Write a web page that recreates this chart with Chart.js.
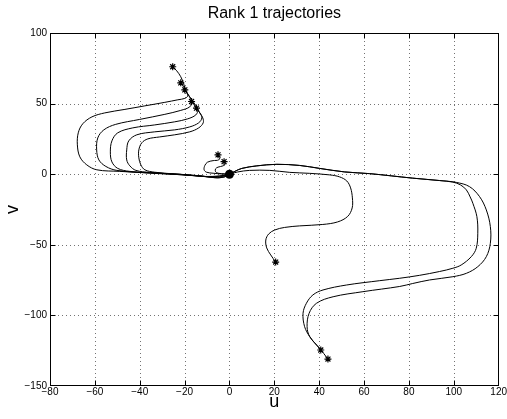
<!DOCTYPE html>
<html><head><meta charset="utf-8">
<script src="https://cdn.jsdelivr.net/npm/chart.js@4.4.0/dist/chart.umd.min.js"></script>
<style>html,body{margin:0;padding:0;background:#fff}</style>
</head><body>
<canvas id="c" width="507" height="419" style="width:507px;height:419px;display:block"></canvas>
<script>
const chartTitle = 'Rank 1 trajectories';
const xLabel = 'u';
const yLabel = 'v';
const xTickValues = [-80,-60,-40,-20,0,20,40,60,80,100,120];
const yTickValues = [-150,-100,-50,0,50,100];

const left1U = [-25.3,-23.5,-21.7,-20.4,-19.5,-18.6,-19.9,-23.0,-28.8,-37.7,-46.6,-55.6,-61.3,-65.4,-67.4,-67.8,-66.7,-63.6,-59.1,-48.9,-35.5,-22.1,-11.0,-4.3,0];
const left1V = [76.1,73.2,69.0,64.0,59.0,55.5,53.7,52.7,50.9,48.4,45.9,43.4,40.6,35.7,29.3,20.8,12.3,6.6,3.1,2.0,0.9,-0.1,-1.6,-1.2,0];
const left2U = [-21.7,-19.9,-18.1,-16.8,-17.7,-21.7,-28.8,-40.0,-50.7,-56.0,-58.7,-59.2,-58.2,-55.1,-50.2,-35.5,-19.9,-8.8,-3.4,0];
const left2V = [64.7,60.5,55.5,51.2,47.7,45.2,42.4,38.8,35.3,31.4,25.7,17.2,10.1,5.5,2.7,0.8,-0.5,-1.8,-1.2,0];
const left3U = [-19.9,-17.7,-15.5,-14.1,-15.0,-18.6,-24.4,-33.3,-43.1,-49.8,-52.4,-53.1,-52.4,-49.8,-44.4,-31.1,-15.5,-6.6,-2.5,0];
const left3V = [59.7,54.8,49.8,45.6,42.0,39.2,37.1,34.9,32.8,29.3,23.6,15.8,8.7,4.1,2.0,0.6,-1.1,-2.1,-1.4,0];
const left4U = [-16.9,-15.0,-13.2,-12.3,-13.7,-17.7,-24.4,-33.3,-41.3,-44.9,-45.8,-45.8,-44.4,-41.7,-35.5,-22.1,-11.0,-5.2,-1.7,0];
const left4V = [51.5,47.7,43.4,39.9,36.4,33.5,31.4,30.0,27.9,23.6,17.2,10.1,5.9,2.7,1.3,-0.1,-1.6,-2.6,-1.6,0];
const left5U = [-14.7,-13.2,-11.9,-11.7,-13.7,-17.7,-24.4,-31.1,-36.4,-39.1,-40.4,-40.4,-39.5,-37.7,-33.3,-24.4,-13.2,-6.6,-2.1,0];
const left5V = [46.8,43.4,39.9,36.4,32.8,30.0,27.9,26.4,25.0,22.2,17.2,11.6,6.6,3.1,1.4,0.2,-1.1,-2.5,-1.9,0];
const loop1U = [-5.1,-4.3,-4.8,-7.3,-9.8,-11.0,-11.3,-10.2,-7.3,-3.6,0];
const loop1V = [13.7,11.8,10.1,9.6,8.5,6.1,3.1,1.4,0.7,0.2,0];
const loop2U = [-2.4,-1.8,-2.9,-5.1,-6.2,-6.2,-5.1,-2.1,0];
const loop2V = [8.9,7.3,5.9,5.0,3.8,1.8,0.7,0.2,0];
const right1U = [20.6,18.4,16.6,16.2,17.5,20.2,24.6,31.3,41.6,48.2,52.7,54.7,54.8,54.0,52.3,49.1,44.7,35.8,26.9,18.0,9.0,3.7,0];
const right1V = [-62.2,-57.2,-52.2,-46.6,-42.3,-39.5,-37.7,-36.6,-35.6,-33.8,-29.9,-23.9,-16.8,-9.7,-4.8,-1.9,-0.5,0.6,1.3,2.7,2.7,1.6,0];
const long1U = [40.7,38.8,35.8,33.5,32.8,34.3,37.2,41.7,52.1,67.0,75.9,84.8,93.7,99.6,103.3,107.8,110.0,110.7,110.3,108.5,107.3,105.6,103.0,99.6,93.7,81.7,62.5,51.4,40.2,31.3,21.1,12.2,5.5,2.4,0];
const long1V = [-124.5,-121.0,-115.1,-108.0,-98.5,-91.4,-85.5,-82.0,-78.5,-75.4,-73.7,-71.6,-68.9,-66.6,-64.3,-58.4,-52.5,-41.8,-30.1,-20.6,-16.1,-11.1,-7.6,-5.6,-4.5,-2.8,0.4,1.6,4.1,6.2,7.0,5.9,4.1,2.0,0];
const long2U = [43.9,40.2,35.8,34.6,35.5,38.8,46.2,59.5,75.9,81.7,89.2,99.6,105.6,110.7,114.5,116.3,116.3,114.5,111.5,107.0,101.1,93.7,81.7,62.5,51.4,40.2,31.3,21.1,12.2,5.5,2.4,0];
const long2V = [-130.9,-123.3,-115.1,-108.0,-98.5,-91.4,-86.8,-83.2,-79.5,-77.4,-74.9,-72.6,-70.2,-65.5,-58.4,-48.9,-37.1,-25.3,-15.9,-8.8,-5.8,-4.5,-2.8,0.4,1.6,4.1,6.2,7.0,5.9,4.1,2.0,0];
const originU = [0];
const originV = [0];

const trajectories = [
  [left1U,left1V],[left2U,left2V],[left3U,left3V],[left4U,left4V],[left5U,left5V],
  [loop1U,loop1V],[loop2U,loop2V],[right1U,right1V],[long1U,long1V],[long2U,long2V]
];

const fontFam = '"Liberation Sans", Arial, Helvetica, sans-serif';
const fmt = v => (v < 0 ? '\u2212' + Math.abs(v) : String(v));

const datasets = trajectories.map(([u,v]) => ({
  data: u.map((x,i) => ({x, y: v[i]})),
  showLine: true, borderColor: '#000', borderWidth: 1, pointRadius: 0,
  tension: 0.35, fill: false
}));
datasets.push({
  data: trajectories.map(([u,v]) => ({x: u[0], y: v[0]})),
  showLine: false, pointStyle: 'star', pointRadius: 3.5, borderColor: '#000',
  borderWidth: 1.2, backgroundColor: '#000'
});
datasets.push({
  data: originU.map((x,i) => ({x, y: originV[i]})),
  showLine: false, pointStyle: 'circle', pointRadius: 4.5, borderColor: '#000',
  borderWidth: 0, backgroundColor: '#000'
});

const framePlugin = {
  id: 'frame',
  beforeDatasetsDraw(chart) {
    const {ctx, chartArea: a, scales: {x, y}} = chart;
    ctx.save();
    ctx.strokeStyle = 'rgba(0,0,0,0.55)';
    ctx.lineWidth = 1;
    ctx.setLineDash([1,3]);
    xTickValues.forEach(t => {
      const px = Math.round(x.getPixelForValue(t)) + 0.5;
      if (px < a.left + 2 || px > a.right - 2) return;
      ctx.beginPath(); ctx.moveTo(px, a.top); ctx.lineTo(px, a.bottom); ctx.stroke();
    });
    yTickValues.forEach(t => {
      const py = Math.round(y.getPixelForValue(t)) + 0.5;
      if (py < a.top + 2 || py > a.bottom - 2) return;
      ctx.beginPath(); ctx.moveTo(a.left, py); ctx.lineTo(a.right, py); ctx.stroke();
    });
    ctx.restore();
  },
  afterDatasetsDraw(chart) {
    const {ctx, chartArea: a, scales: {x, y}} = chart;
    ctx.save();
    ctx.strokeStyle = '#000';
    ctx.lineWidth = 1;
    ctx.setLineDash([]);
    const L = Math.round(a.left) + 0.5, R = Math.round(a.right) - 0.5;
    const T = Math.round(a.top) + 0.5, B = Math.round(a.bottom) - 0.5;
    ctx.strokeRect(L, T, R - L, B - T);
    const tl = 5;
    xTickValues.forEach(t => {
      const px = Math.round(x.getPixelForValue(t)) + 0.5;
      if (px < a.left + 2 || px > a.right - 2) return;
      ctx.beginPath();
      ctx.moveTo(px, B); ctx.lineTo(px, B - tl);
      ctx.moveTo(px, T); ctx.lineTo(px, T + tl);
      ctx.stroke();
    });
    yTickValues.forEach(t => {
      const py = Math.round(y.getPixelForValue(t)) + 0.5;
      if (py < a.top + 2 || py > a.bottom - 2) return;
      ctx.beginPath();
      ctx.moveTo(L, py); ctx.lineTo(L + tl, py);
      ctx.moveTo(R, py); ctx.lineTo(R - tl, py);
      ctx.stroke();
    });
    ctx.restore();
  }
};

new Chart(document.getElementById('c'), {
  type: 'scatter',
  data: {datasets},
  plugins: [framePlugin],
  options: {
    responsive: false,
    animation: false,
    devicePixelRatio: 1,
    layout: {padding: {left: 0, right: 8, top: 0, bottom: 0}},
    plugins: {legend: {display: false}, tooltip: {enabled: false}, title: {display: false}},
    scales: {
      x: {
        type: 'linear', position: 'bottom', min: -80, max: 120,
        afterBuildTicks: s => { s.ticks = xTickValues.map(v => ({value: v})); },
        afterFit: s => { s.height = 33; },
        grid: {display: false, drawTicks: false},
        border: {display: false},
        ticks: {color: '#000', font: {family: fontFam, size: 10}, padding: 0, maxRotation: 0, autoSkip: false, callback: v => fmt(v)},
        title: {display: true, text: xLabel, color: '#000', font: {family: fontFam, size: 18}, padding: {top: 0, bottom: 6}}
      },
      x2: {
        type: 'linear', axis: 'x', position: 'top', min: -80, max: 120,
        afterFit: s => { s.height = 33; },
        grid: {display: false, drawTicks: false},
        border: {display: false},
        ticks: {display: false},
        title: {display: true, text: chartTitle, color: '#000', font: {family: fontFam, size: 16}, padding: {top: 4, bottom: 0}}
      },
      y: {
        type: 'linear', position: 'left', min: -150, max: 100,
        afterBuildTicks: s => { s.ticks = yTickValues.map(v => ({value: v})); },
        afterFit: s => { s.width = 50; },
        grid: {display: false, drawTicks: false},
        border: {display: false},
        ticks: {color: '#000', font: {family: fontFam, size: 10}, padding: 3, autoSkip: false, callback: v => fmt(v)},
        title: {display: true, text: yLabel, color: '#000', font: {family: fontFam, size: 18}, padding: {top: 2, bottom: 0}}
      }
    }
  }
});
</script>
</body></html>
